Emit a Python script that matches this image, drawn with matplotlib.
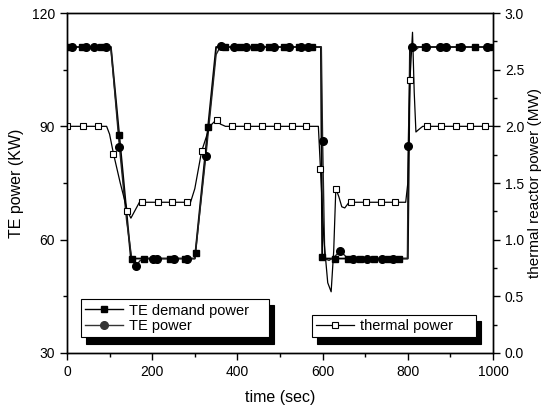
import numpy as np
import matplotlib
matplotlib.use('Agg')
import matplotlib.pyplot as plt
from matplotlib.lines import Line2D

plt.rcParams['font.family'] = ['Liberation Sans', 'DejaVu Sans']

# TE demand power curve (KW)
demand_t = [0, 103, 150, 300, 350, 596, 599, 800, 805, 1000]
demand_p = [111, 111, 55, 55, 111, 111, 55, 55, 111, 111]

# TE demand power markers
demand_mk_t = [0, 35, 80, 123, 152, 181, 207, 242, 277, 303, 330, 372, 405, 440,
               475, 510, 545, 575, 599, 629, 660, 688, 720, 754, 780, 840, 880, 920, 958, 990]
demand_mk_p = [111, 111, 111, 87.7, 55, 55, 55, 55, 55, 56.5, 89.8, 111, 111, 111,
               111, 111, 111, 111, 55.3, 55, 55, 55, 55, 55, 55, 111, 111, 111, 111, 111]

# TE power curve (KW)
te_t = [0, 103, 123, 140, 152, 162, 172, 182, 300, 326, 350, 361, 372, 597, 600, 605,
        615, 628, 641, 655, 668, 799, 801, 806, 812, 818, 826, 1000]
te_p = [111, 111, 84.6, 65, 55, 53.1, 54.5, 55, 55, 82.2, 109, 111.3, 111, 111, 86.1, 55,
        54.5, 55.5, 57, 55.5, 55, 55, 84.8, 111, 111.5, 110.2, 111, 111]

# TE power markers
te_mk_t = [12, 45, 63, 92, 123, 162, 203, 212, 250, 282, 326, 361, 392, 420, 453, 485,
           520, 550, 565, 600, 641, 672, 705, 740, 765, 801, 810, 843, 875, 890, 925, 985]
te_mk_p = [111, 111, 111, 111, 84.6, 53.1, 55, 55, 55, 55, 82.2, 111.3, 111, 111, 111, 111,
           111, 111, 111, 86.1, 57, 55, 55, 55, 55, 84.8, 111, 111, 111, 111, 111, 111]

# thermal reactor power curve (MW)
th_t = [0, 93, 100, 109, 125, 142, 150, 160, 170, 290, 300, 316, 335, 351, 360, 372,
        590, 595, 603, 612, 620, 626, 631, 638, 645, 652, 662, 795, 800, 805, 811,
        815, 819, 825, 835, 1000]
th_p = [2.0, 2.0, 1.93, 1.76, 1.5, 1.25, 1.19, 1.26, 1.33, 1.33, 1.45, 1.78, 2.0, 2.06,
        2.02, 2.0, 2.0, 1.62, 1.0, 0.62, 0.54, 0.9, 1.45, 1.38, 1.29, 1.28, 1.33, 1.33,
        1.5, 2.41, 2.83, 2.3, 1.95, 1.97, 2.0, 2.0]

# thermal power markers
th_mk_t = [1, 38, 73, 109, 142, 177, 213, 247, 282, 316, 351, 388, 422, 457, 492,
           527, 562, 595, 631, 666, 701, 736, 771, 805, 844, 879, 913, 946, 981]
th_mk_p = [2.0, 2.0, 2.0, 1.76, 1.25, 1.33, 1.33, 1.33, 1.33, 1.78, 2.06, 2.0, 2.0, 2.0, 2.0,
           2.0, 2.0, 1.62, 1.45, 1.33, 1.33, 1.33, 1.33, 2.41, 2.0, 2.0, 2.0, 2.0, 2.0]

fig = plt.figure(figsize=(5.46, 4.13), dpi=100)
ax = fig.add_axes([0.1227, 0.1453, 0.7803, 0.8232])
ax2 = ax.twinx()

# thermal power (right axis)
ax2.plot(th_t, th_p, color='black', lw=0.9)
ax2.plot(th_mk_t, th_mk_p, ls='none', marker='s', ms=5, mfc='white', mec='black', mew=0.8)

# TE demand and TE power (left axis)
ax.plot(demand_t, demand_p, color='black', lw=1.3)
ax.plot(te_t, te_p, color='#222222', lw=1.0)
ax.plot(demand_mk_t, demand_mk_p, ls='none', marker='s', ms=5, color='black')
ax.plot(te_mk_t, te_mk_p, ls='none', marker='o', ms=5.5, color='black')

ax.set_xlim(0, 1000)
ax.set_ylim(30, 120)
ax2.set_ylim(0, 3.0)
ax.set_xticks([0, 200, 400, 600, 800, 1000])
ax.set_xticks([100, 300, 500, 700, 900], minor=True)
ax.set_yticks([30, 60, 90, 120])
ax.set_yticks([45, 75, 105], minor=True)
ax2.set_yticks([0.0, 0.5, 1.0, 1.5, 2.0, 2.5, 3.0])
ax2.set_yticks(np.arange(0.25, 3.0, 0.5), minor=True)
ax2.set_yticklabels(['0.0', '0.5', '1.0', '1.5', '2.0', '2.5', '3.0'])

for a in (ax, ax2):
    a.tick_params(which='major', direction='out', length=5, width=1, labelsize=10)
    a.tick_params(which='minor', direction='out', length=3, width=1)
    for s in a.spines.values():
        s.set_linewidth(1)

ax.set_xlabel('time (sec)', fontsize=11.5, labelpad=8)
ax.set_ylabel('TE power (KW)', fontsize=11.5, labelpad=6)
ax2.set_ylabel('thermal reactor power (MW)', fontsize=11, labelpad=3)

shadow = {'ox': 4, 'oy': -4.5, 'facecolor': 'black', 'edgecolor': 'black', 'alpha': 1}

h1 = [Line2D([], [], color='black', lw=1, marker='s', ms=5),
      Line2D([], [], color='#333333', lw=1, marker='o', ms=5.5)]
leg1 = ax2.legend(h1, ['TE demand power', 'TE power'], loc='lower left',
                  bbox_to_anchor=(0.032, 0.046, 0.442, 0.12), mode='expand',
                  fontsize=10.5, fancybox=False, framealpha=1, edgecolor='black',
                  shadow=shadow, handlelength=2.6, borderpad=0.3, labelspacing=0.1,
                  handletextpad=0.4, borderaxespad=0)
leg1.get_frame().set_linewidth(0.8)
ax2.add_artist(leg1)

h2 = [Line2D([], [], color='black', lw=0.9, marker='s', ms=5, mfc='white', mec='black', mew=0.8)]
leg2 = ax2.legend(h2, ['thermal power'], loc='lower left',
                  bbox_to_anchor=(0.574, 0.046, 0.385, 0.07), mode='expand',
                  fontsize=10.5, fancybox=False, framealpha=1, edgecolor='black',
                  shadow=shadow, handlelength=2.6, borderpad=0.3,
                  handletextpad=0.4, borderaxespad=0)
leg2.get_frame().set_linewidth(0.8)

fig.savefig('out.png', dpi=100)
